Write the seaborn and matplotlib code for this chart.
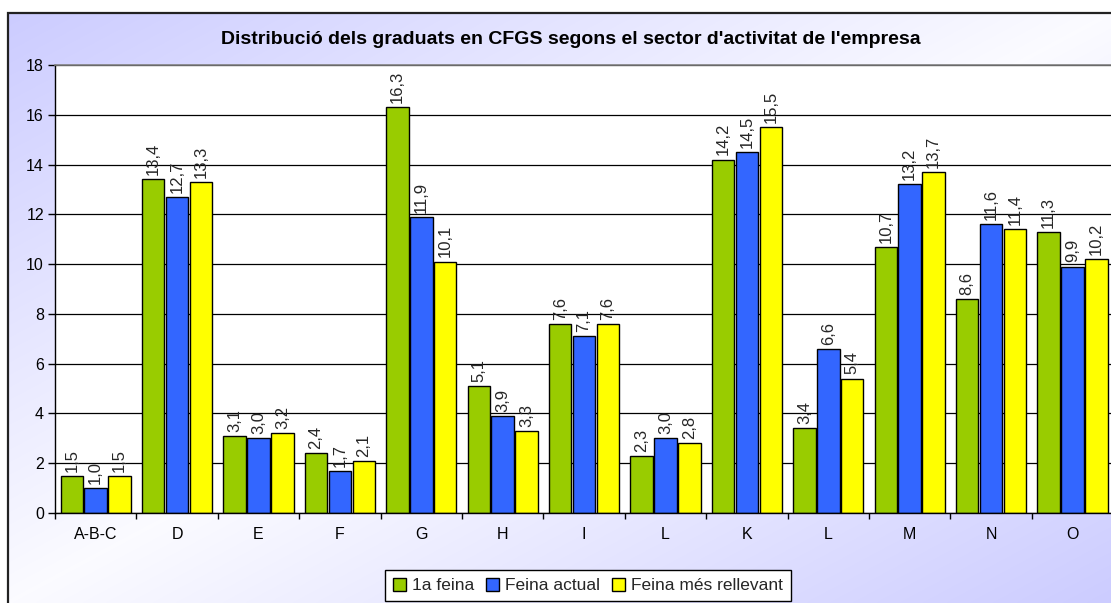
import numpy as np
import pandas as pd
import matplotlib
matplotlib.use("Agg")
import matplotlib.pyplot as plt
from matplotlib.patches import Patch, Rectangle
import seaborn as sns

# Sector codes (the economic-activity letters) and the three series, in %
sectors = ["A-B-C", "D", "E", "F", "G", "H", "I", "L", "K", "L", "M", "N", "O"]
primera_feina = [1.5, 13.4, 3.1, 2.4, 16.3, 5.1, 7.6, 2.3, 14.2, 3.4, 10.7, 8.6, 11.3]
feina_actual = [1.0, 12.7, 3.0, 1.7, 11.9, 3.9, 7.1, 3.0, 14.5, 6.6, 13.2, 11.6, 9.9]
feina_rellevant = [1.5, 13.3, 3.2, 2.1, 10.1, 3.3, 7.6, 2.8, 15.5, 5.4, 13.7, 11.4, 10.2]
series_names = ["1a feina", "Feina actual", "Feina més rellevant"]
series_values = [primera_feina, feina_actual, feina_rellevant]
colors = ["#99CC00", "#3366FF", "#FFFF00"]
title = "Distribució dels graduats en CFGS segons el sector d'activitat de l'empresa"
y_ticks = list(range(0, 19, 2))

sns.set_theme(style="white")
plt.rcParams["font.family"] = ["Liberation Sans", "DejaVu Sans"]

n = len(sectors)
df = pd.DataFrame({
    "pos": np.tile(np.arange(n), len(series_names)),
    "serie": np.repeat(series_names, n),
    "valor": np.concatenate(series_values),
})

W, H = 1111, 603
fig = plt.figure(figsize=(W / 100, H / 100), dpi=100)
fig.patch.set_facecolor("white")

# Chart area background: diagonal lavender-white-lavender gradient
fx0, fy_top = 8 / W, 1 - 13 / H
bg = fig.add_axes([fx0, 0, 1 - fx0, fy_top], zorder=0)
gw, gh = 600, 320
xx = np.linspace(0, 1, gw)[None, :]
yy = np.linspace(0, 1, gh)[:, None]
t = np.clip(np.abs(xx + yy - 1.0), 0, 1)[..., None]
lav = np.array([0.80, 0.80, 1.0])
white = np.array([0.985, 0.985, 1.0])
img = white * (1 - t) + lav * t
bg.imshow(img, aspect="auto", extent=[0, 1, 0, 1], origin="upper", interpolation="bilinear")
bg.axis("off")

fig.add_artist(Rectangle((fx0, -0.2), 1.5, fy_top + 0.2, transform=fig.transFigure,
                         fill=False, edgecolor="#222222", lw=1.6, zorder=1))

# Plot area
ax = fig.add_axes([55 / W, 1 - 513 / H, 1 - 55 / W + 0.002, (513 - 65) / H], zorder=2)
ax.set_facecolor("white")
sns.barplot(data=df, x="pos", y="valor", hue="serie", hue_order=series_names,
            palette=colors, saturation=1, width=0.88, gap=0.06,
            edgecolor="black", linewidth=1, legend=False, ax=ax)

for cont, vals in zip(ax.containers, series_values):
    ax.bar_label(cont, labels=[f"{v:.1f}".replace(".", ",") for v in vals],
                 rotation=90, padding=3, fontsize=12)

ax.set_ylim(0, 18)
ax.set_yticks(y_ticks)
ax.set_xlim(-0.5, n - 0.5)
ax.set_xticks(range(n))
ax.set_xticklabels(sectors)
ax.set_xticks(np.arange(-0.5, n, 1), minor=True)
ax.set_xlabel("")
ax.set_ylabel("")
ax.yaxis.grid(True, color="black", lw=0.9)
ax.xaxis.grid(False)
ax.set_axisbelow(True)
ax.tick_params(axis="x", which="major", bottom=True, length=0, pad=10, labelsize=11.5, labelcolor="black")
ax.tick_params(axis="x", which="minor", bottom=True, length=4, width=1, color="black", direction="out")
ax.tick_params(axis="y", left=True, length=5, width=1, color="black", direction="out", pad=3,
               labelsize=11.5, labelcolor="black")
for side in ("left", "bottom"):
    ax.spines[side].set_color("black")
    ax.spines[side].set_linewidth(1)
ax.spines["top"].set_color("#808080")
ax.spines["top"].set_linewidth(1.2)
ax.spines["right"].set_visible(False)

fig.text(571 / W, 1 - 40 / H, title, ha="center", va="center", fontsize=14,
         fontweight="bold", color="black")

handles = [Patch(facecolor=c, edgecolor="black", lw=1) for c in colors]
leg = fig.legend(handles, series_names, loc="center", bbox_to_anchor=(588 / W, 1 - 585.5 / H),
                 ncol=3, frameon=True, fancybox=False, edgecolor="black", framealpha=1,
                 fontsize=12.5, handlelength=0.75, handleheight=0.75, handletextpad=0.35,
                 columnspacing=0.7, borderpad=0.45)
leg.get_frame().set_linewidth(1)
leg.set_zorder(3)

fig.savefig("out.png", dpi=100)
